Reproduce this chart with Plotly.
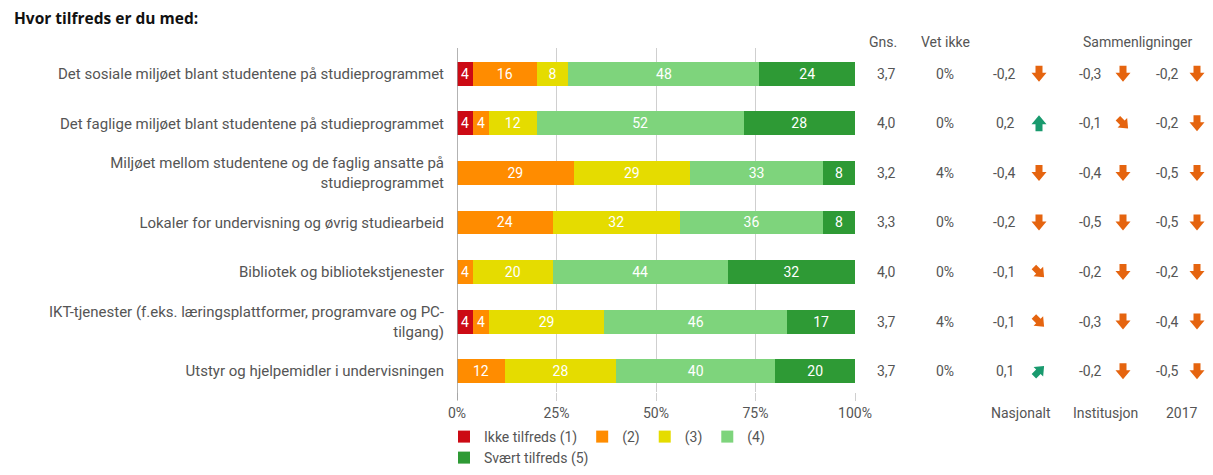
import math
import plotly.graph_objects as go

title = "Hvor tilfreds er du med:"
categories = [
    "Det sosiale miljøet blant studentene på studieprogrammet",
    "Det faglige miljøet blant studentene på studieprogrammet",
    "Miljøet mellom studentene og de faglig ansatte på<br>studieprogrammet",
    "Lokaler for undervisning og øvrig studiearbeid",
    "Bibliotek og bibliotekstjenester",
    "IKT-tjenester (f.eks. læringsplattformer, programvare og PC-<br>tilgang)",
    "Utstyr og hjelpemidler i undervisningen",
]
series_names = ["Ikke tilfreds (1)", "(2)", "(3)", "(4)", "Svært tilfreds (5)"]
s1 = [4, 4, 0, 0, 0, 4, 0]
s2 = [16, 4, 29, 24, 4, 4, 12]
s3 = [8, 12, 29, 32, 20, 29, 28]
s4 = [48, 52, 33, 36, 44, 46, 40]
s5 = [24, 28, 8, 8, 32, 17, 20]
gns = ["3,7", "4,0", "3,2", "3,3", "4,0", "3,7", "3,7"]
vet_ikke = ["0%", "0%", "4%", "0%", "0%", "4%", "0%"]
nasjonalt = [-0.2, 0.2, -0.4, -0.2, -0.1, -0.1, 0.1]
institusjon = [-0.3, -0.1, -0.4, -0.5, -0.2, -0.3, -0.2]
aar2017 = [-0.2, -0.2, -0.5, -0.5, -0.2, -0.4, -0.5]
x_ticks = [0, 25, 50, 75, 100]
x_ticklabels = ["0%", "25%", "50%", "75%", "100%"]

colors = ["#cc0a14", "#ff8c00", "#e5dc00", "#7ed47c", "#2e9a35"]
FONT = "Roboto"
GREY = "#555555"
FS = 14

# page body has an 8px margin on every side: keep the figure inside the window
OFF = 8
W, H = 1213 - 2 * OFF, 475 - 2 * OFF
ML = 457 - OFF
MT = 48 - OFF
MR = 0
MB = H - (392 - OFF)
PW = W - ML - MR
PH = H - MT - MB


def px(x):
    return (x - OFF - ML) / PW


def ytop(py):
    return (H - MB - (py - OFF)) / PH


fig = go.Figure()
for i, (name, vals) in enumerate(zip(series_names, [s1, s2, s3, s4, s5])):
    fig.add_trace(go.Bar(
        y=list(range(len(categories))), x=vals, orientation="h", name=name,
        marker=dict(color=colors[i], line=dict(width=0)),
        text=[str(v) if v > 0 else "" for v in vals],
        textposition="inside", insidetextanchor="middle", textangle=0,
        textfont=dict(color="white", size=14, family=FONT),
        legend="legend" if i < 4 else "legend2",
        hoverinfo="skip",
    ))

fig.update_layout(
    width=W, height=H, barmode="stack", barnorm="percent", bargap=0.52,
    margin=dict(l=ML, r=MR, t=MT, b=MB, autoexpand=False),
    plot_bgcolor="white", paper_bgcolor="white",
    font=dict(family=FONT, size=FS, color=GREY),
    xaxis=dict(range=[0, 100], domain=[0, px(855)], tickvals=x_ticks, ticktext=x_ticklabels,
               showgrid=True, gridcolor="#cfcfcf", gridwidth=1, zeroline=False,
               ticks="outside", ticklen=8, tickcolor="#cfcfcf", tickfont=dict(size=FS, color=GREY),
               showline=False, fixedrange=True, automargin=False),
    yaxis=dict(range=[6.42, -0.52], tickvals=list(range(len(categories))), ticktext=categories,
               showgrid=False, zeroline=False, ticks="", ticklabelstandoff=12,
               tickfont=dict(size=15, color=GREY), showline=False, automargin=False),
    legend=dict(orientation="h", x=px(444), y=ytop(421), xanchor="left", yanchor="top",
                font=dict(size=FS, color=GREY), traceorder="normal", itemwidth=30,
                bgcolor="rgba(0,0,0,0)"),
    legend2=dict(orientation="h", x=px(444), y=ytop(442), xanchor="left", yanchor="top",
                 font=dict(size=FS, color=GREY), itemwidth=30, bgcolor="rgba(0,0,0,0)"),
    showlegend=True,
)

# left axis line at 0%
fig.add_shape(type="line", xref="x", yref="paper", x0=0, x1=0, y0=-8 / PH, y1=1,
              line=dict(color="#9a9a9a", width=1.5))

ann = []
ann.append(dict(text="<b>" + title + "</b>", xref="paper", yref="paper", x=px(12), y=ytop(18),
                xanchor="left", yanchor="middle", showarrow=False,
                font=dict(family="Open Sans", size=15.5, color="#111111")))

for txt, xc in [("Gns.", 883), ("Vet ikke", 945), ("Sammenligninger", 1137)]:
    ann.append(dict(text=txt, xref="paper", yref="paper", x=px(xc), y=ytop(42), xanchor="center",
                    yanchor="middle", showarrow=False, font=dict(size=FS, color=GREY)))
for txt, xc in [("Nasjonalt", 1021), ("Institusjon", 1105), ("2017", 1182)]:
    ann.append(dict(text=txt, xref="paper", yref="paper", x=px(xc), y=ytop(413), xanchor="center",
                    yanchor="middle", showarrow=False, font=dict(size=FS, color=GREY)))


def fmt(v):
    return ("%.1f" % v).replace(".", ",")


# block-arrow glyph (pointing down), in pixels around its centre
ARROW = [(-3.5, 8), (3.5, 8), (3.5, 1), (7.5, 1), (0, -8), (-7.5, 1), (-3.5, 1)]


def arrow_path(angle_deg, scale=1.0):
    a = math.radians(angle_deg)
    pts = []
    for x, y in ARROW:
        pts.append((scale * (x * math.cos(a) - y * math.sin(a)),
                    scale * (x * math.sin(a) + y * math.cos(a))))
    return "M" + " L".join("%.2f,%.2f" % p for p in pts) + " Z"


def arrow_style(v):
    if v <= -0.2:
        return 0, "#e5640f", 1.0
    if v < 0:
        return 45, "#e5640f", 0.9
    if v >= 0.2:
        return 180, "#199a6e", 1.0
    return 135, "#199a6e", 0.9


shapes = []
for r in range(len(categories)):
    ann.append(dict(text=gns[r], xref="paper", yref="y", x=px(886), y=r, xanchor="center",
                    showarrow=False, font=dict(size=FS, color=GREY)))
    ann.append(dict(text=vet_ikke[r], xref="paper", yref="y", x=px(945), y=r, xanchor="center",
                    showarrow=False, font=dict(size=FS, color=GREY)))
    for vals, xr, xa in [(nasjonalt, 1017, 1039), (institusjon, 1103, 1123), (aar2017, 1180, 1197)]:
        ann.append(dict(text=fmt(vals[r]), xref="paper", yref="y", x=px(xr), y=r, xanchor="right",
                        showarrow=False, font=dict(size=FS, color=GREY)))
        ang, col, sc = arrow_style(vals[r])
        shapes.append(dict(type="path", xref="paper", yref="y", xsizemode="pixel", ysizemode="pixel",
                           xanchor=px(xa), yanchor=r, path=arrow_path(ang, sc),
                           fillcolor=col, line=dict(width=0)))

fig.update_layout(annotations=ann)
for s in shapes:
    fig.add_shape(**s)
fig.write_html("out.html")
